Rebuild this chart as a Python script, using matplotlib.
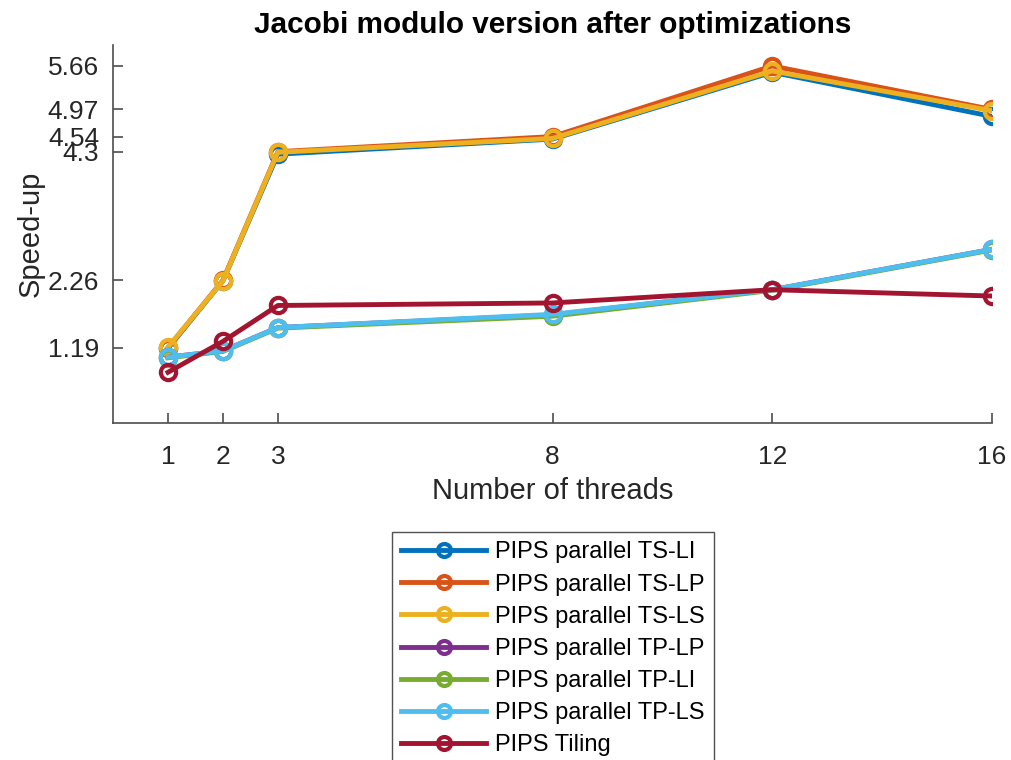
import matplotlib
matplotlib.use("Agg")
import matplotlib.pyplot as plt

plt.rcParams['font.family'] = ['Liberation Sans', 'DejaVu Sans']

threads = [1, 2, 3, 8, 12, 16]

ts_li = [1.18, 2.25, 4.26, 4.50, 5.56, 4.86]
ts_lp = [1.19, 2.26, 4.30, 4.54, 5.66, 4.97]
ts_ls = [1.20, 2.25, 4.29, 4.51, 5.58, 4.95]
tp_lp = [1.04, 1.14, 1.51, 1.71, 2.11, 2.75]
tp_li = [1.03, 1.13, 1.50, 1.69, 2.10, 2.74]
tp_ls = [1.04, 1.14, 1.51, 1.72, 2.11, 2.75]
tiling = [0.80, 1.29, 1.86, 1.90, 2.11, 2.01]

series = [
    ("PIPS parallel TS-LI", ts_li, "#0072BD"),
    ("PIPS parallel TS-LP", ts_lp, "#D95319"),
    ("PIPS parallel TS-LS", ts_ls, "#EDB120"),
    ("PIPS parallel TP-LP", tp_lp, "#7E2F8E"),
    ("PIPS parallel TP-LI", tp_li, "#77AC30"),
    ("PIPS parallel TP-LS", tp_ls, "#4DBEEE"),
    ("PIPS Tiling", tiling, "#A2142F"),
]

yticks = [1.19, 2.26, 4.3, 4.54, 4.97, 5.66]
ytick_labels = ["1.19", "2.26", "4.3", "4.54", "4.97", "5.66"]

fig = plt.figure(figsize=(10.12, 7.6), dpi=100)
ax = fig.add_axes([0.1117, 0.4438, 0.8685, 0.4976])

for name, vals, col in series:
    ax.plot(threads, vals, '-o', color=col, lw=3.5, ms=11, mew=3,
            mfc='none', label=name)

ax.set_xlim(0, 16)
ax.set_ylim(0, 6)
ax.set_xticks(threads)
ax.set_yticks(yticks)
ax.set_yticklabels(ytick_labels)

axis_col = '#4d4d4d'
for s in ['top', 'right']:
    ax.spines[s].set_visible(False)
for s in ['left', 'bottom']:
    ax.spines[s].set_color(axis_col)
    ax.spines[s].set_linewidth(1.2)
ax.tick_params(direction='in', length=7, width=1.2, color=axis_col,
               labelsize=19, labelcolor='#262626')
ax.tick_params(axis='x', pad=16)
ax.tick_params(axis='y', pad=10)

ax.set_xlabel("Number of threads", fontsize=21, color='#262626', labelpad=6)
ax.set_ylabel("Speed-up", fontsize=21, color='#262626', labelpad=2)
ax.set_title("Jacobi modulo version after optimizations", fontsize=21.4,
             fontweight='bold', pad=8)

leg = fig.legend(loc='upper left', bbox_to_anchor=(392 / 1012, 1 - 532 / 760),
                 fontsize=17, frameon=True, fancybox=False, handlelength=3.6,
                 handletextpad=0.35, labelspacing=0.43, borderpad=0.4,
                 borderaxespad=0, numpoints=1, markerscale=0.85)
leg.get_frame().set_edgecolor('#262626')
leg.get_frame().set_linewidth(1.0)

fig.savefig("out.png", dpi=100)
